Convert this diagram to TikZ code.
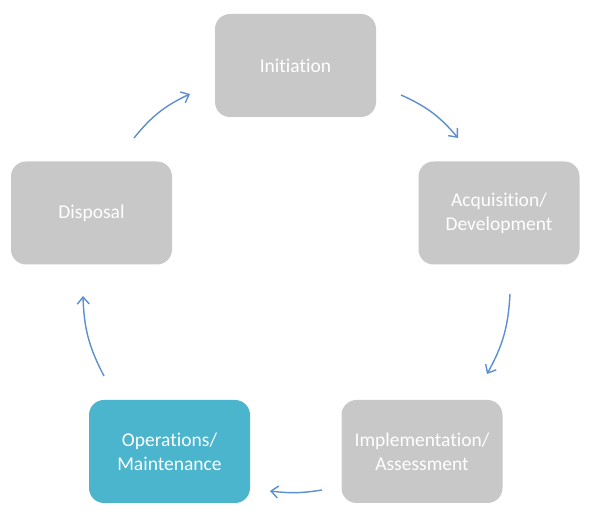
\documentclass[tikz,border=0pt]{standalone}
\usepackage{fontspec}
\setmainfont[Ligatures=NoCommon]{Carlito}
\usetikzlibrary{arrows.meta}
\definecolor{boxgray}{HTML}{C8C8C8}
\definecolor{boxteal}{HTML}{4BB5CE}
\definecolor{arrblue}{HTML}{5B8FD0}
\begin{document}
\begin{tikzpicture}[x=1pt,y=1pt,
  phase/.style={rectangle, rounded corners=15pt, minimum width=161pt, minimum height=103pt,
    fill=boxgray, text=white, align=center, font=\fontsize{19.5}{24}\selectfont, inner sep=2pt},
  cyc/.style={draw=arrblue, line width=1.4pt, -{Straight Barb[length=7pt,width=12pt,line width=1.4pt]}, bend left=13}]
\useasboundingbox (0,0) rectangle (598,524);
\node[phase] (init) at (295.5,458.5) {Initiation};
\node[phase] (acq) at (499,311) {Acquisition/\\Development};
\node[phase] (impl) at (422,72.5) {Implementation/\\Assessment};
\node[phase, fill=boxteal] (ops) at (169.5,72.5) {Operations/\\Maintenance};
\node[phase] (disp) at (91.5,311) {Disposal};
\coordinate (a1s) at (401,429); \coordinate (a1e) at (458,386);
\coordinate (a2s) at (510,230); \coordinate (a2e) at (487,150);
\coordinate (a3s) at (322,34); \coordinate (a3e) at (270,33);
\coordinate (a4s) at (104,148); \coordinate (a4e) at (83,228);
\coordinate (a5s) at (134,386); \coordinate (a5e) at (190,430);
\draw[cyc] (a1s) to (a1e);
\draw[cyc] (a2s) to (a2e);
\draw[cyc, bend left=8] (a3s) to (a3e);
\draw[cyc] (a4s) to (a4e);
\draw[cyc] (a5s) to (a5e);
\end{tikzpicture}
\end{document}
